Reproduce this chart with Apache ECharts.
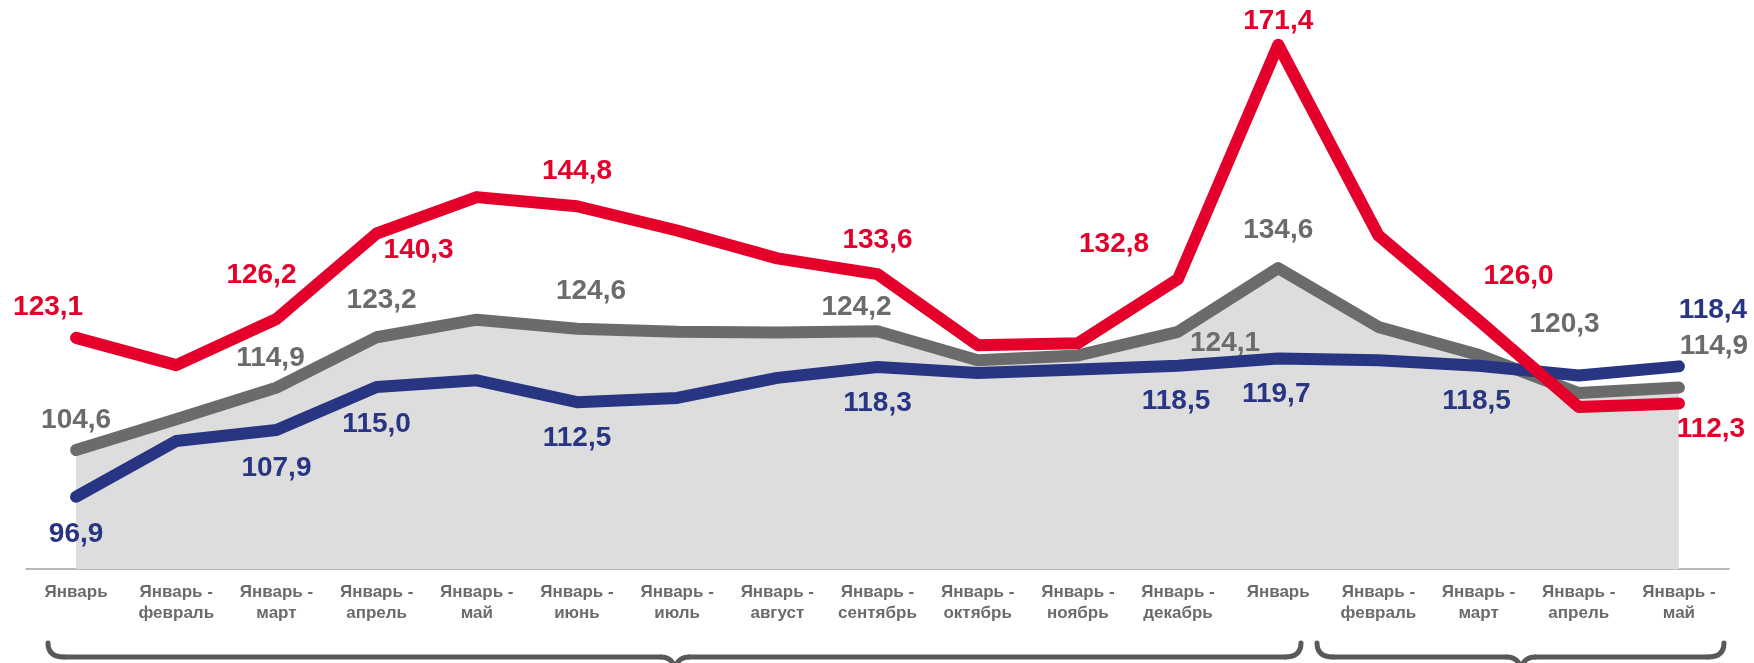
<!DOCTYPE html>
<html lang="ru" style="height: 100%">
<head>
  <meta charset="utf-8">
  <style>
    body { margin: 0; height: 100%; background: #fff; }
    #container { width: 1754px; height: 663px; }
  </style>
</head>
<body>
  <div id="container"></div>
  <script src="https://cdn.jsdelivr.net/npm/echarts@6/dist/echarts.min.js"></script>
  <script>
    // categories (two years: Jan..Dec cumulative, then Jan..May cumulative)
    const months = [
      'Январь', 'Январь -\nфевраль', 'Январь -\nмарт', 'Январь -\nапрель', 'Январь -\nмай',
      'Январь -\nиюнь', 'Январь -\nиюль', 'Январь -\nавгуст', 'Январь -\nсентябрь',
      'Январь -\nоктябрь', 'Январь -\nноябрь', 'Январь -\nдекабрь',
      'Январь', 'Январь -\nфевраль', 'Январь -\nмарт', 'Январь -\nапрель', 'Январь -\nмай'
    ];

    const redValues  = [123.1, 118.6, 126.2, 140.3, 146.3, 144.8, 140.8, 136.2, 133.6, 121.9, 122.2, 132.8, 171.4, 140.0, 126.0, 111.7, 112.3];
    const grayValues = [104.6, 109.7, 114.9, 123.2, 126.1, 124.6, 124.1, 124.0, 124.2, 119.4, 120.2, 124.1, 134.6, 124.9, 120.3, 114.0, 114.9];
    const blueValues = [96.9, 106.1, 107.9, 115.0, 116.1, 112.5, 113.2, 116.5, 118.3, 117.3, 117.9, 118.5, 119.7, 119.4, 118.5, 116.9, 118.4];

    // which points carry a value label, and where it sits relative to the point
    const redLabelOffsets  = { 0: [-28, -31], 2: [-15, -44], 3: [42, 17], 5: [0, -35], 8: [0, -34], 11: [-64, -35], 12: [0, -24], 14: [40, -44], 16: [32, 26] };
    const grayLabelOffsets = { 0: [0, -30], 2: [-6, -29], 3: [5, -37], 5: [14, -37], 8: [-21, -24], 11: [47, 11], 12: [0, -38], 14: [86, -31], 16: [35, -41] };
    const blueLabelOffsets = { 0: [0, 37], 2: [0, 38], 3: [0, 37], 5: [0, 36], 8: [0, 36], 11: [-2, 36], 12: [-2, 36], 14: [-2, 36], 16: [34, -56] };

    const RED = '#e4002b';
    const GRAY = '#6b6b6b';
    const BLUE = '#283583';

    function withLabels(values, offsets, color) {
      return values.map(function (v, i) {
        const off = offsets[i];
        return {
          value: v,
          label: {
            show: !!off,
            position: 'inside',
            offset: off || [0, 0],
            color: color,
            fontSize: 28,
            fontWeight: 'bold',
            fontFamily: 'Liberation Sans, Arial, sans-serif',
            formatter: function (p) { return p.value.toFixed(1).replace('.', ','); }
          }
        };
      });
    }

    function lineSeries(name, values, offsets, color, z, area) {
      const s = {
        name: name,
        type: 'line',
        z: z,
        data: withLabels(values, offsets, color),
        symbol: 'circle',
        symbolSize: 2,
        showSymbol: true,
        showAllSymbol: true,
        itemStyle: { color: color },
        lineStyle: { color: color, width: 12, cap: 'round', join: 'round' },
        emphasis: { disabled: true }
      };
      if (area) {
        s.areaStyle = { color: '#dddddd', opacity: 1 };
      }
      return s;
    }

    // curly brace under the axis labels, drawn from lines and quadratic curves
    function brace(left, right, tip) {
      const top = 643, y = 657, tipY = 668;
      const st = { stroke: '#595959', lineWidth: 5, lineCap: 'round', fill: null };
      return [
        { type: 'bezierCurve', shape: { x1: left, y1: top, x2: left + 16, y2: y, cpx1: left, cpy1: y }, style: st },
        { type: 'line', shape: { x1: left + 16, y1: y, x2: tip - 14, y2: y }, style: st },
        { type: 'bezierCurve', shape: { x1: tip - 14, y1: y, x2: tip, y2: tipY, cpx1: tip - 3, cpy1: y }, style: st },
        { type: 'bezierCurve', shape: { x1: tip, y1: tipY, x2: tip + 14, y2: y, cpx1: tip + 3, cpy1: y }, style: st },
        { type: 'line', shape: { x1: tip + 14, y1: y, x2: right - 16, y2: y }, style: st },
        { type: 'bezierCurve', shape: { x1: right - 16, y1: y, x2: right, y2: top, cpx1: right, cpy1: y }, style: st }
      ];
    }

    const chart = echarts.init(document.getElementById('container'), null, { renderer: 'canvas' });

    const option = {
      animation: false,
      backgroundColor: '#ffffff',
      grid: { left: 26, right: 25, top: 23, bottom: 94 },
      xAxis: {
        type: 'category',
        data: months,
        boundaryGap: true,
        axisLine: { lineStyle: { color: '#a3a3a3', width: 1.5 } },
        axisTick: { show: false },
        axisLabel: {
          interval: 0,
          margin: 13,
          color: '#6b6b6b',
          fontSize: 17,
          lineHeight: 21,
          fontWeight: 'bold',
          fontFamily: 'Liberation Sans, Arial, sans-serif'
        }
      },
      yAxis: {
        type: 'value',
        min: 85,
        max: 175,
        show: false
      },
      series: [
        lineSeries('gray', grayValues, grayLabelOffsets, GRAY, 2, true),
        lineSeries('blue', blueValues, blueLabelOffsets, BLUE, 3, false),
        lineSeries('red', redValues, redLabelOffsets, RED, 4, false)
      ],
      graphic: {
        elements: brace(48, 1301, 675).concat(brace(1317, 1724, 1521))
      }
    };

    chart.setOption(option);
    window.addEventListener('resize', chart.resize);
  </script>
</body>
</html>
